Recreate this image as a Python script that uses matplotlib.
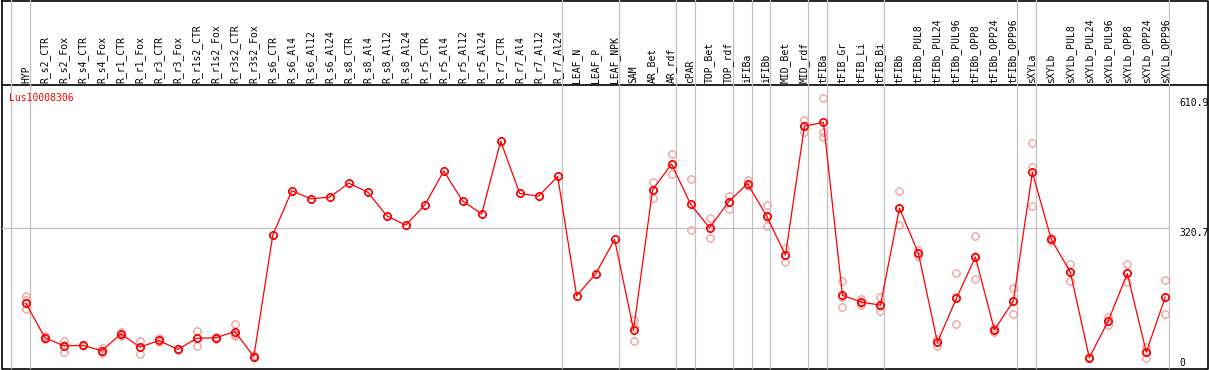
import numpy as np
import matplotlib
matplotlib.use("Agg")
import matplotlib.pyplot as plt
from matplotlib.path import Path
import matplotlib.transforms as mtransforms

##### DATA #####
gene = "Lus10008306"

samples = ["HYP", "R_s2_CTR", "R_s2_Fox", "R_s4_CTR", "R_s4_Fox", "R_r1_CTR", "R_r1_Fox",
           "R_r3_CTR", "R_r3_Fox", "R_r1s2_CTR", "R_r1s2_Fox", "R_r3s2_CTR", "R_r3s2_Fox",
           "R_s6_CTR", "R_s6_Al4", "R_s6_Al12", "R_s6_Al24", "R_s8_CTR", "R_s8_Al4",
           "R_s8_Al12", "R_s8_Al24", "R_r5_CTR", "R_r5_Al4", "R_r5_Al12", "R_r5_Al24",
           "R_r7_CTR", "R_r7_Al4", "R_r7_Al12", "R_r7_Al24", "LEAF_N", "LEAF_P", "LEAF_NPK",
           "SAM", "AR_Bet", "AR_rdf", "cPAR", "TOP_Bet", "TOP_rdf", "iFIBa", "iFIBb",
           "MID_Bet", "MID_rdf", "tFIBa", "tFIB_Gr", "tFIB_Li", "tFIB_Bi", "tFIBb",
           "tFIBb_PUL8", "tFIBb_PUL24", "tFIBb_PUL96", "tFIBb_OPP8", "tFIBb_OPP24",
           "tFIBb_OPP96", "sXYLa", "sXYLb", "sXYLb_PUL8", "sXYLb_PUL24", "sXYLb_PUL96",
           "sXYLb_OPP8", "sXYLb_OPP24", "sXYLb_OPP96"]

# mean expression per sample
means = [152, 75, 57, 58, 46, 84, 54, 69, 49, 74, 75, 89, 33,
         305, 404, 386, 390, 421, 401, 348, 327, 372, 448, 381, 352,
         515, 398, 392, 436, 169, 218, 295,
         93, 406, 464, 374, 321, 379, 420, 348, 260, 549,
         557, 170, 155, 148, 365, 264, 65, 163, 256, 93, 157,
         445, 295, 222, 30.5, 113, 219, 43, 166]

# replicate values (empty where only the mean is shown)
replicates = [[169, 160, 139], [73, 78, 75], [68, 43, 59], [58, 59, 57], [52, 42, 44],
              [89, 80, 82], [68, 39, 55], [74, 65, 69], [49, 50, 48], [91, 57, 74],
              [76, 72, 75], [105, 78, 84], [37, 31, 31],
              [], [], [], [], [], [], [], [], [], [], [], [], [], [], [], [],
              [], [], [],
              [115, 100, 67], [423, 387, 406], [486, 441, 464], [430, 316], [343, 298, 322],
              [392, 364, 379], [429, 415, 417], [372, 325, 346], [275, 245, 261],
              [562, 535, 549], [611, 536, 524], [202, 143, 166], [162, 148, 154],
              [166, 134, 146], [403, 327, 365], [272, 257, 264], [72, 57, 66],
              [219, 105, 166], [303, 206, 258], [97, 88, 92], [186, 128, 158],
              [510, 457, 370], [298, 292, 296], [240, 202, 222], [31, 30, 31],
              [121, 104, 113], [240, 200, 219], [55, 30.5, 44], [204, 128, 166]]

# sample groups end after these column indices
group_ends = [-1, 0, 28, 31, 34, 35, 37, 38, 39, 41, 42, 45, 52, 53, 60]

tick_values = [30.5, 320.7, 610.9]
tick_labels = ["0", "320.7", "610.9"]

##### STYLE #####
W, H = 1209, 370
mono = "DejaVu Sans Mono"
red = "#ff0000"
pink = "#f0a0a0"
gray = "#c0c0c0"

# open circle with four small ticks, like the gd markers
circ = Path.unit_circle()
verts = list(circ.vertices * 0.8)
codes = list(circ.codes)
for dx, dy in [(0, 1), (0, -1), (1, 0), (-1, 0)]:
    verts += [(dx * 0.8, dy * 0.8), (dx * 1.0, dy * 1.0)]
    codes += [Path.MOVETO, Path.LINETO]
gear = Path(verts, codes)

fig = plt.figure(figsize=(W / 100, H / 100), dpi=100)

# frame
ax_bg = fig.add_axes([0, 0, 1, 1])
ax_bg.set_xlim(0, W)
ax_bg.set_ylim(H, 0)
ax_bg.axis("off")
ax_bg.plot([1.5, 1207.5, 1207.5, 1.5, 1.5], [0.5, 0.5, 368.5, 368.5, 0.5], color="black", lw=1.2)
ax_bg.plot([1.5, 1207.5], [85, 85], color="black", lw=1.2)

x = np.arange(len(samples))
xlim = (-1.2625, 60.25)

ax = fig.add_axes([2 / W, 1 / H, 1168 / W, 284 / H])
ax_h = fig.add_axes([2 / W, 285 / H, 1168 / W, 85 / H])
for a in (ax, ax_h):
    a.set_xlim(*xlim)
    a.patch.set_alpha(0)
    for s in a.spines.values():
        s.set_visible(False)
    for g in group_ends:
        a.axvline(g + 0.21, color=gray, lw=0.9, zorder=1)

ax.set_ylim(5.2, 640.7)
ax.axhline(320.7, color=gray, lw=0.9, zorder=1)

for i, reps in enumerate(replicates):
    if reps:
        ax.plot([i] * len(reps), reps, linestyle="none", marker=gear, ms=6.5,
                mfc="none", mec=pink, mew=0.9, zorder=2)
ax.plot(x, means, color=red, lw=0.9, zorder=3)
ax.plot(x, means, linestyle="none", marker=gear, ms=6.5, mfc="none", mec=red, mew=1.2, zorder=4)

ax.set_xticks([])
ax.yaxis.tick_right()
ax.set_yticks(tick_values)
ax.set_yticklabels(tick_labels, fontsize=7, family=mono)
ax.tick_params(axis="y", length=0, pad=6.5)
for lab in ax.get_yticklabels():
    lab.set_va("top")

ax.text(0.00625, 0.972, gene, transform=ax.transAxes, color=red, fontsize=7,
        family=mono, ha="left", va="top")

# rotated sample names in the header
trans = mtransforms.blended_transform_factory(ax_h.transData, ax_h.transAxes)
ax_h.set_xticks([])
ax_h.set_yticks([])
for i, name in enumerate(samples):
    ax_h.text(i, 0.0235, name, transform=trans, rotation=90, ha="center", va="bottom",
              fontsize=7, family=mono, color="black")

fig.savefig("out.png", dpi=100)
